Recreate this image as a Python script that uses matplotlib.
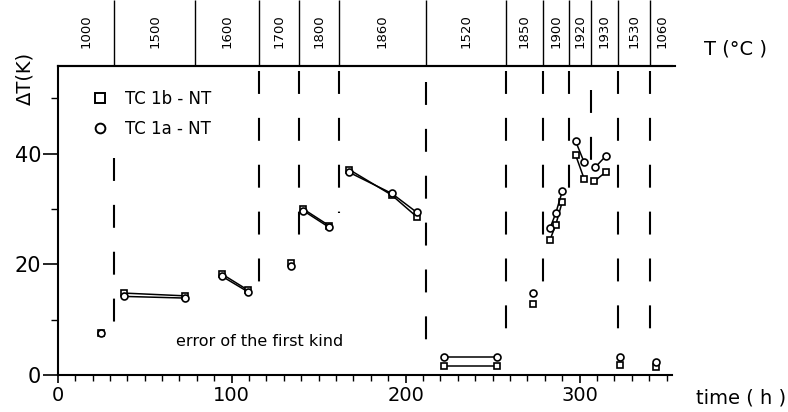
import matplotlib
matplotlib.use("Agg")
import matplotlib.pyplot as plt
from matplotlib.lines import Line2D
from matplotlib.ticker import MultipleLocator
import numpy as np

# ── Data ──
temps_C = [1000, 1500, 1600, 1700, 1800, 1860, 1520, 1850, 1900, 1920, 1930, 1530, 1060]
band_edges_h = [0, 32.4, 79.0, 115.7, 138.7, 161.7, 211.6, 257.6, 278.9, 293.9, 306.5, 322.0, 340.4, 354.8]

# dashed markers of temperature changes inside the plot
change_x = [32.4, 115.7, 138.7, 161.7, 211.6, 257.6, 278.9, 293.9, 306.5, 322.0, 340.4]
change_top = [39.2, 55.0, 55.0, 55.0, 52.9, 55.0, 55.0, 55.0, 51.5, 55.0, 55.0]
change_bot = [9.4, 13.5, 23.8, 29.3, 5.1, 5.4, 15.0, 33.8, 38.5, 4.5, 4.5]

# TC 1b - NT (squares)
t_1b = [24.9, 38.1, 73.1, 94.6, 109.5, 134.0, 141.1, 155.9, 167.6, 192.0, 206.3,
        222.0, 252.7, 273.3, 282.9, 286.2, 290.0, 297.7, 302.6, 308.4, 315.1, 323.2, 343.7]
dT_1b = [7.5, 14.8, 14.3, 18.2, 15.3, 20.3, 30.0, 27.0, 37.1, 32.5, 28.6,
         1.7, 1.7, 12.9, 24.4, 27.1, 31.3, 39.7, 35.4, 35.0, 36.7, 1.8, 1.5]
grp_1b = [0, 1, 1, 2, 2, 3, 4, 4, 5, 5, 5, 6, 6, 7, 8, 8, 8, 9, 9, 10, 10, 11, 12]

# TC 1a - NT (circles)
t_1a = [24.9, 38.1, 73.1, 94.6, 109.5, 134.0, 141.1, 155.9, 167.6, 192.0, 206.3,
        222.0, 252.7, 273.3, 282.9, 286.2, 290.0, 297.7, 302.6, 308.8, 315.1, 323.2, 343.7]
dT_1a = [7.5, 14.2, 13.9, 17.8, 15.0, 19.7, 29.7, 26.7, 36.6, 32.8, 29.4,
         3.3, 3.3, 14.9, 26.5, 29.2, 33.2, 42.2, 38.4, 37.5, 39.6, 3.3, 2.4]
grp_1a = grp_1b

W, H = 788, 412
fig = plt.figure(figsize=(W / 100, H / 100), dpi=100)
plt.rcParams["font.family"] = "DejaVu Sans"

# ── Main axes ──
x0, x1, y0, y1 = 57.7, 672, 375, 66
ax = fig.add_axes([x0 / W, 1 - y0 / H, (x1 - x0) / W, (y0 - y1) / H])
ax.set_xlim(0, (x1 - x0) / 1.74)
ax.set_ylim(0, (y0 - y1) / 5.535)
ax.spines["right"].set_visible(False)
for s in ("left", "bottom", "top"):
    ax.spines[s].set_linewidth(1.5)

ax.set_xticks([0, 100, 200, 300])
ax.xaxis.set_minor_locator(MultipleLocator(10))
ax.set_yticks([0, 20, 40])
ax.yaxis.set_minor_locator(MultipleLocator(10))
ax.tick_params(axis="x", which="major", length=6, width=1.2, labelsize=14, pad=2)
ax.tick_params(axis="x", which="minor", length=4, width=1.0)
ax.tick_params(axis="y", which="major", length=11, width=1.2, labelsize=15, pad=1)
ax.tick_params(axis="y", which="minor", length=5, width=1.0)

for xc, yt, yb in zip(change_x, change_top, change_bot):
    ax.plot([xc, xc], [yt, yb], color="black", lw=1.5,
            linestyle=(0, (11, 11.5)), solid_capstyle="butt")


def draw_series(t, v, g, marker):
    t, v, g = np.asarray(t), np.asarray(v), np.asarray(g)
    for k in np.unique(g):
        m = g == k
        ax.plot(t[m], v[m], color="black", lw=1.1, marker=marker, ms=5,
                mfc="white", mec="black", mew=1.2, zorder=3)


draw_series(t_1b, dT_1b, grp_1b, "s")
draw_series(t_1a, dT_1a, grp_1a, "o")

handles = [
    Line2D([], [], ls="none", marker="s", ms=7, mfc="white", mec="black", mew=1.4),
    Line2D([], [], ls="none", marker="o", ms=7, mfc="white", mec="black", mew=1.4),
]
ax.legend(handles, ["TC 1b - NT", "TC 1a - NT"], loc="upper left",
          bbox_to_anchor=(0.045, 0.945), frameon=False, fontsize=12,
          handlelength=1.0, handletextpad=1.0, labelspacing=0.75, borderaxespad=0)

ax.text(68, 6.1, "error of the first kind", fontsize=11.5, va="center", ha="left")

# ── Temperature band on top ──
tax = fig.add_axes([x0 / W, 1 - y1 / H, (675 - x0) / W, y1 / H])
tax.set_xlim(band_edges_h[0], band_edges_h[-1])
tax.set_ylim(0, 1)
tax.axis("off")
tax.vlines(band_edges_h[1:-1], 0, 1, color="black", lw=1.0)
tax.plot([band_edges_h[0], band_edges_h[-1]], [0, 0], color="black", lw=1.5, clip_on=False)
for lo, hi, tc in zip(band_edges_h[:-1], band_edges_h[1:], temps_C):
    tax.text((lo + hi) / 2, 0.53, str(tc), rotation=90, ha="center", va="center",
             fontsize=9.5)

# ── Axis titles ──
fig.text(25 / W, 1 - 78 / H, "ΔT(K)", rotation=90, ha="center", va="center", fontsize=14)
fig.text(741 / W, 1 - 398 / H, "time ( h )", ha="center", va="center", fontsize=14)
fig.text(736 / W, 1 - 49 / H, "T (°C )", ha="center", va="center", fontsize=14)

fig.savefig("out.png", dpi=100, facecolor="white")
